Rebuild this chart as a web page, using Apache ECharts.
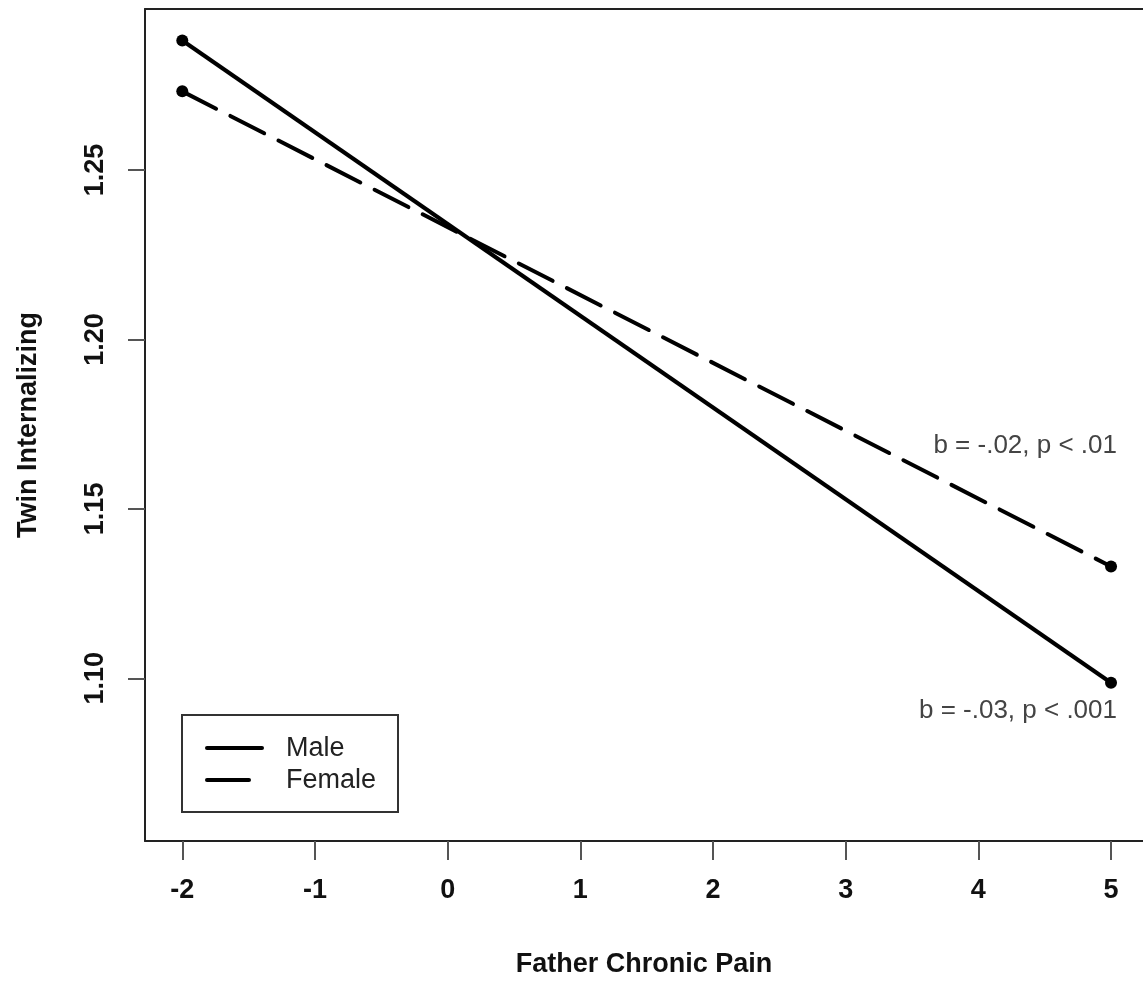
<!DOCTYPE html>
<html>
<head>
<meta charset="utf-8">
<script src="https://cdn.jsdelivr.net/npm/echarts@6/dist/echarts.min.js"></script>
<style>
  html, body { margin: 0; padding: 0; background: #fff; }
  #chart { width: 1143px; height: 983px; }
</style>
</head>
<body>
<div id="chart"></div>
<script>
var xValues = [-2, 5];
var maleValues = [1.2882, 1.0987];
var femaleValues = [1.2732, 1.1330];
var xTicks = [-2, -1, 0, 1, 2, 3, 4, 5];
var yTicks = [1.10, 1.15, 1.20, 1.25];
var seriesNames = ['Male', 'Female'];
var annotations = [
  { text: 'b = -.02, p < .01', x: 5.045, y: 1.1686 },
  { text: 'b = -.03, p < .001', x: 5.045, y: 1.0903 }
];

var FONT = '"Liberation Sans", Arial, Helvetica, sans-serif';

function pairs(xs, ys) {
  return xs.map(function (x, i) { return [x, ys[i]]; });
}

var chart = echarts.init(document.getElementById('chart'));
var option = {
  animation: false,
  backgroundColor: '#fff',
  grid: { left: 145, top: 9, bottom: 140, right: 0, show: false },
  xAxis: [{
    type: 'value', min: -2.281, max: 5.241, position: 'bottom',
    name: 'Father Chronic Pain', nameLocation: 'middle', nameGap: 110,
    nameTextStyle: { fontFamily: FONT, fontSize: 27, fontWeight: 'bold', color: '#111' },
    axisLine: { show: true, onZero: false, lineStyle: { color: '#222', width: 2 } },
    splitLine: { show: false },
    axisTick: { show: true, inside: false, length: 19, customValues: xTicks,
      lineStyle: { color: '#555', width: 2 } },
    axisLabel: { show: true, margin: 36, customValues: xTicks,
      fontFamily: FONT, fontSize: 27, fontWeight: 'bold', color: '#111',
      formatter: function (v) { return String(v); } }
  }, {
    type: 'value', min: -2.281, max: 5.241, position: 'top',
    axisLine: { show: true, onZero: false, lineStyle: { color: '#222', width: 2 } },
    splitLine: { show: false }, axisTick: { show: false }, axisLabel: { show: false }
  }],
  yAxis: {
    type: 'value', min: 1.052, max: 1.2975, position: 'left',
    name: 'Twin Internalizing', nameLocation: 'middle', nameGap: 103, nameRotate: 90,
    nameTextStyle: { fontFamily: FONT, fontSize: 27, fontWeight: 'bold', color: '#111' },
    axisLine: { show: true, onZero: false, lineStyle: { color: '#222', width: 2 } },
    splitLine: { show: false },
    axisTick: { show: true, inside: false, length: 17, customValues: yTicks,
      lineStyle: { color: '#555', width: 2 } },
    axisLabel: { show: true, margin: 36, rotate: 90, customValues: yTicks,
      fontFamily: FONT, fontSize: 27, fontWeight: 'bold', color: '#111',
      formatter: function (v) { return v.toFixed(2); } }
  },
  series: [
    {
      name: seriesNames[0], type: 'line', data: pairs(xValues, maleValues),
      symbol: 'circle', symbolSize: 12, showSymbol: true,
      itemStyle: { color: '#000' },
      lineStyle: { color: '#000', width: 4 }
    },
    {
      name: seriesNames[1], type: 'line', data: pairs(xValues, femaleValues),
      symbol: 'circle', symbolSize: 12, showSymbol: true,
      itemStyle: { color: '#000' },
      lineStyle: { color: '#000', width: 4, type: [38, 16], cap: 'round' }
    }
  ]
};
chart.setOption(option);

var graphics = [];
annotations.forEach(function (a) {
  var p = chart.convertToPixel({ xAxisIndex: 0, yAxisIndex: 0 }, [a.x, a.y]);
  graphics.push({
    type: 'text', x: p[0], y: p[1],
    style: { text: a.text, fontFamily: FONT, fontSize: 26, fill: '#444',
      textAlign: 'right', textVerticalAlign: 'middle' }
  });
});
// legend box (R-style)
graphics.push({
  type: 'rect', shape: { x: 182, y: 715, width: 216, height: 97 },
  style: { fill: '#fff', stroke: '#333', lineWidth: 2 }
});
graphics.push({
  type: 'line', shape: { x1: 207, y1: 748, x2: 262, y2: 748 },
  style: { stroke: '#000', lineWidth: 4, lineCap: 'round' }
});
graphics.push({
  type: 'line', shape: { x1: 207, y1: 780, x2: 249, y2: 780 },
  style: { stroke: '#000', lineWidth: 4, lineCap: 'round' }
});
graphics.push({
  type: 'text', x: 286, y: 749,
  style: { text: seriesNames[0], fontFamily: FONT, fontSize: 27, fill: '#222', textVerticalAlign: 'middle' }
});
graphics.push({
  type: 'text', x: 286, y: 781,
  style: { text: seriesNames[1], fontFamily: FONT, fontSize: 27, fill: '#222', textVerticalAlign: 'middle' }
});
chart.setOption({ graphic: graphics });
</script>
</body>
</html>
